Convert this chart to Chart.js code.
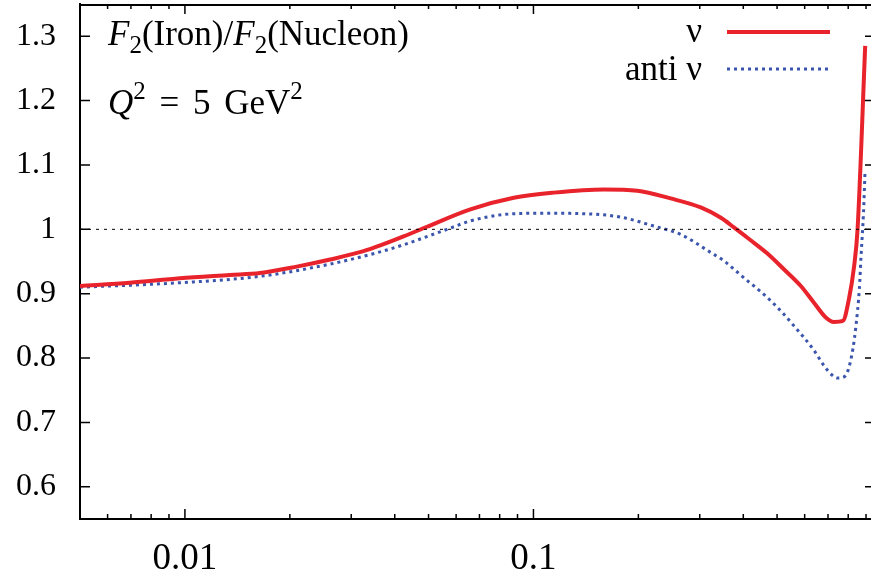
<!DOCTYPE html>
<html>
<head>
<meta charset="utf-8">
<script src="https://cdn.jsdelivr.net/npm/chart.js@4.4.1/dist/chart.umd.min.js"></script>
<style>
  body { margin: 0; background: #fff; }
  #wrap { position: relative; width: 871px; height: 579px; font-family: "Liberation Serif", "DejaVu Serif", serif; color: #000; }
  #wrap canvas { position: absolute; left: 0; top: 0; }
  .txt { position: absolute; font-size: 35px; line-height: 34px; white-space: nowrap; }
  .txt sub, .txt sup { font-size: 25px; line-height: 0; position: relative; vertical-align: baseline; }
  .txt sub { top: 8px; }
  .txt sup { top: -15px; }
  .key { position: absolute; }
</style>
</head>
<body>
<div id="wrap">
  <canvas id="chart" width="871" height="579"></canvas>
  <div class="txt" style="left:108px; top:17px;"><i>F</i><sub>2</sub>(Iron)/<i>F</i><sub>2</sub>(Nucleon)</div>
  <div class="txt" style="left:108px; top:86px; word-spacing:5px;"><i>Q</i><sup>2</sup> = 5 GeV<sup>2</sup></div>
  <div class="txt" style="right:169px; top:14px;">ν</div>
  <div class="txt" style="right:169px; top:52px;">anti ν</div>
  <svg class="key" style="left:727px; top:26px;" width="105" height="50">
    <line x1="0" y1="6" x2="103" y2="6" stroke="#e8232b" stroke-width="4"/>
    <line x1="0" y1="43" x2="103" y2="43" stroke="#3b55ad" stroke-width="3" stroke-dasharray="3 4"/>
  </svg>
</div>
<script>
// x = Bjorken x, y = F2(Iron)/F2(Nucleon)
const xNu = [0.005, 0.00695, 0.00967, 0.01346, 0.01642, 0.02094, 0.0261, 0.03254, 0.03634,
  0.04239, 0.04948, 0.06592, 0.08779, 0.1143, 0.1592, 0.1986, 0.2475, 0.302, 0.345,
  0.376, 0.420, 0.470, 0.523, 0.585, 0.638, 0.690, 0.728, 0.773, 0.804, 0.832, 0.851, 0.895];
const yNu = [0.912, 0.917, 0.924, 0.929, 0.932, 0.942, 0.953, 0.966, 0.975,
  0.989, 1.004, 1.031, 1.049, 1.057, 1.062, 1.060, 1.048, 1.034, 1.018,
  1.003, 0.983, 0.962, 0.938, 0.912, 0.886, 0.863, 0.856, 0.858, 0.892, 0.943, 1.000, 1.285];

const xAnti = [0.005, 0.00967, 0.01642, 0.0261, 0.03634, 0.04239, 0.0565, 0.06592, 0.0822,
  0.1071, 0.1427, 0.1778, 0.2217, 0.2646, 0.3226, 0.352, 0.376, 0.401, 0.429, 0.458,
  0.490, 0.523, 0.559, 0.597, 0.638, 0.682, 0.721, 0.745, 0.773, 0.798, 0.825, 0.842,
  0.861, 0.871, 0.885, 0.894];
const yAnti = [0.910, 0.917, 0.927, 0.946, 0.965, 0.976, 1.000, 1.013, 1.023,
  1.025, 1.024, 1.019, 1.005, 0.992, 0.964, 0.951, 0.938, 0.925, 0.912, 0.899,
  0.884, 0.868, 0.850, 0.832, 0.812, 0.788, 0.773, 0.769, 0.770, 0.780, 0.814, 0.850,
  0.907, 0.959, 1.026, 1.089];

const xRange = [0.005, 0.93];
const yRange = [0.55, 1.35];
const xLabels = [0.01, 0.1];
const yTicks = [0.6, 0.7, 0.8, 0.9, 1.0, 1.1, 1.2, 1.3];
const unityX = [0.005, 0.93];
const unityY = [1, 1];

function pts(xs, ys) {
  return xs.map(function (x, i) { return { x: x, y: ys[i] }; });
}

// gnuplot style frame: inward ticks on all sides, top border
const frameTicks = {
  id: "frameTicks",
  afterDraw: function (chart) {
    const c = chart.ctx;
    const a = chart.chartArea;
    const xs = chart.scales.x;
    const ys = chart.scales.y;
    c.save();
    c.strokeStyle = "#000";
    c.lineWidth = 2;
    c.beginPath();
    c.moveTo(a.left, a.top + 1);
    c.lineTo(a.right, a.top + 1);
    c.stroke();
    c.lineWidth = 1.5;
    c.beginPath();
    for (let d = -3; d <= 0; d++) {
      for (let m = 1; m <= 9; m++) {
        const v = m * Math.pow(10, d);
        if (v < xRange[0] || v > xRange[1]) continue;
        const px = xs.getPixelForValue(v);
        const len = m === 1 ? 10 : 5;
        c.moveTo(px, a.bottom);
        c.lineTo(px, a.bottom - len);
        c.moveTo(px, a.top);
        c.lineTo(px, a.top + len);
      }
    }
    yTicks.forEach(function (v) {
      const py = ys.getPixelForValue(v);
      c.moveTo(a.left, py);
      c.lineTo(a.left + 10, py);
      c.moveTo(a.right + 4, py);
      c.lineTo(a.right - 6, py);
    });
    c.stroke();
    c.restore();
  }
};

const serif = "'Liberation Serif', 'Times New Roman', serif";

new Chart(document.getElementById("chart"), {
  type: "line",
  data: {
    datasets: [
      {
        label: "unity",
        data: pts(unityX, unityY),
        borderColor: "#000",
        borderWidth: 1,
        borderDash: [3, 5],
        pointRadius: 0
      },
      {
        label: "ν",
        data: pts(xNu, yNu),
        borderColor: "#e8232b",
        borderWidth: 4,
        pointRadius: 0,
        cubicInterpolationMode: "monotone"
      },
      {
        label: "anti ν",
        data: pts(xAnti, yAnti),
        borderColor: "#3b55ad",
        borderWidth: 3,
        borderDash: [3, 4],
        pointRadius: 0,
        cubicInterpolationMode: "monotone"
      }
    ]
  },
  options: {
    responsive: false,
    animation: false,
    layout: { padding: { top: 4, right: 0, left: 0, bottom: 0 } },
    plugins: { legend: { display: false }, tooltip: { enabled: false } },
    scales: {
      x: {
        type: "logarithmic",
        min: xRange[0],
        max: xRange[1],
        grid: { display: false, drawTicks: false },
        border: { display: true, color: "#000", width: 2 },
        afterFit: function (s) { s.height = 60; s.paddingLeft = 0; s.paddingRight = 0; },
        afterBuildTicks: function (s) {
          s.ticks = xLabels.map(function (v) { return { value: v }; });
        },
        ticks: {
          autoSkip: false,
          maxRotation: 0,
          padding: 18,
          color: "#000",
          font: { family: serif, size: 37 },
          callback: function (v) { return String(v); }
        }
      },
      y: {
        min: yRange[0],
        max: yRange[1],
        grid: { display: false, drawTicks: false },
        border: { display: true, color: "#000", width: 2 },
        afterFit: function (s) { s.width = 80; s.paddingTop = 0; s.paddingBottom = 0; },
        afterBuildTicks: function (s) {
          s.ticks = yTicks.map(function (v) { return { value: v }; });
        },
        ticks: {
          padding: 24,
          color: "#000",
          font: { family: serif, size: 32 },
          callback: function (v) { return String(Math.round(v * 10) / 10); }
        }
      }
    }
  },
  plugins: [frameTicks]
});
</script>
</body>
</html>
